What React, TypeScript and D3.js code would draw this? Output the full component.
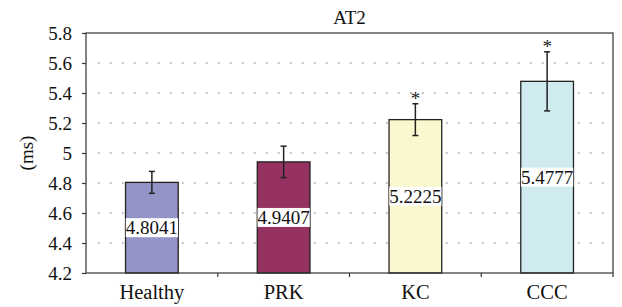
import React, { useEffect, useRef } from "react";
import * as d3 from "d3";

const categories = ["Healthy", "PRK", "KC", "CCC"];
const means = [4.8041, 4.9407, 5.2225, 5.4777];
const errors = [0.073, 0.105, 0.106, 0.197];
const significant = [false, false, true, true];
const colors = ["#9494C8", "#953262", "#FAF8CE", "#CFEBEF"];
const yTicks = [4.2, 4.4, 4.6, 4.8, 5, 5.2, 5.4, 5.6, 5.8];

const App = () => {
  const ref = useRef<SVGSVGElement>(null);

  useEffect(() => {
    const svg = d3.select(ref.current);
    svg.selectAll("*").remove();

    const width = 622;
    const height = 307;
    const margin = { top: 33, right: 9, bottom: 34, left: 86 };
    const font = "Liberation Serif, Times New Roman, serif";
    const fs = 19;

    const x = d3
      .scaleBand()
      .domain(categories)
      .range([margin.left, width - margin.right])
      .paddingInner(0.6)
      .paddingOuter(0.3);

    const y = d3
      .scaleLinear()
      .domain([4.2, 5.8])
      .range([height - margin.bottom, margin.top]);

    svg.attr("viewBox", [0, 0, width, height]);

    // dotted grid
    svg
      .append("g")
      .selectAll("line")
      .data(yTicks.slice(1, -1))
      .join("line")
      .attr("x1", margin.left + 12)
      .attr("x2", width - margin.right)
      .attr("y1", (d) => y(d))
      .attr("y2", (d) => y(d))
      .attr("stroke", "#9a9a9a")
      .attr("stroke-width", 1.5)
      .attr("stroke-dasharray", "1.5 10.5");

    const data = categories.map((c, i) => ({
      c,
      m: means[i],
      e: errors[i],
      s: significant[i],
      col: colors[i],
    }));

    // bars
    svg
      .append("g")
      .selectAll("rect")
      .data(data)
      .join("rect")
      .attr("x", (d) => x(d.c)!)
      .attr("y", (d) => y(d.m))
      .attr("width", x.bandwidth())
      .attr("height", (d) => y(4.2) - y(d.m))
      .attr("fill", (d) => d.col)
      .attr("stroke", "#222")
      .attr("stroke-width", 1.3);

    // value labels with white box
    const lab = svg.append("g");
    data.forEach((d) => {
      const cx = x(d.c)! + x.bandwidth() / 2;
      const cy = (y(d.m) + y(4.2)) / 2;
      const bg = lab.append("rect").attr("fill", "#fff");
      const t = lab
        .append("text")
        .attr("x", cx)
        .attr("y", cy)
        .attr("dy", "0.35em")
        .attr("text-anchor", "middle")
        .style("font-family", font)
        .style("font-size", fs + "px")
        .attr("fill", "#111")
        .text(d.m.toFixed(4));
      const b = (t.node() as SVGTextElement).getBBox();
      bg.attr("x", b.x)
        .attr("y", cy - 9.5)
        .attr("width", b.width)
        .attr("height", 19);
    });

    // error bars
    const eb = svg.append("g").attr("stroke", "#222").attr("stroke-width", 1.5);
    data.forEach((d) => {
      const cx = x(d.c)! + x.bandwidth() / 2;
      eb.append("line")
        .attr("x1", cx)
        .attr("x2", cx)
        .attr("y1", y(d.m + d.e))
        .attr("y2", y(d.m - d.e));
      [d.m + d.e, d.m - d.e].forEach((v) =>
        eb
          .append("line")
          .attr("x1", cx - 3)
          .attr("x2", cx + 3)
          .attr("y1", y(v))
          .attr("y2", y(v))
      );
      if (d.s) {
        svg
          .append("text")
          .attr("x", cx)
          .attr("y", y(d.m + d.e) + 1)
          .attr("text-anchor", "middle")
          .style("font-family", font)
          .style("font-size", fs + "px")
          .attr("fill", "#222")
          .text("*");
      }
    });

    // frame
    svg
      .append("rect")
      .attr("x", margin.left)
      .attr("y", margin.top)
      .attr("width", width - margin.left - margin.right)
      .attr("height", height - margin.top - margin.bottom)
      .attr("fill", "none")
      .attr("stroke", "#333")
      .attr("stroke-width", 1.2);

    // y axis
    const ya = svg
      .append("g")
      .attr("transform", `translate(${margin.left},0)`)
      .call(
        d3
          .axisLeft(y)
          .tickValues(yTicks)
          .tickSize(4)
          .tickPadding(10)
          .tickFormat((d) => d3.format("")(+d))
      );
    ya.select(".domain").remove();
    ya.selectAll("line").attr("stroke", "#333").attr("stroke-width", 1.2);
    ya.selectAll("text")
      .style("font-family", font)
      .style("font-size", fs + "px")
      .attr("fill", "#111");

    // x axis ticks at band boundaries
    const bounds = categories
      .map((c) => x(c)! - (x.step() * 0.6) / 2)
      .concat([width - margin.right]);
    svg
      .append("g")
      .selectAll("line")
      .data(bounds.slice(1))
      .join("line")
      .attr("x1", (d) => d)
      .attr("x2", (d) => d)
      .attr("y1", y(4.2))
      .attr("y2", y(4.2) + 4)
      .attr("stroke", "#333")
      .attr("stroke-width", 1.2);

    svg
      .append("g")
      .selectAll("text")
      .data(categories)
      .join("text")
      .attr("x", (d) => x(d)! + x.bandwidth() / 2)
      .attr("y", 299)
      .attr("text-anchor", "middle")
      .style("font-family", font)
      .style("font-size", "20.5px")
      .attr("fill", "#111")
      .text((d) => d);

    // title
    svg
      .append("text")
      .attr("x", (margin.left + width - margin.right) / 2)
      .attr("y", 24)
      .attr("text-anchor", "middle")
      .style("font-family", font)
      .style("font-size", fs + "px")
      .attr("fill", "#111")
      .text("AT2");

    // y label
    svg
      .append("text")
      .attr(
        "transform",
        `translate(33,${(margin.top + height - margin.bottom) / 2}) rotate(-90)`
      )
      .attr("text-anchor", "middle")
      .style("font-family", font)
      .style("font-size", fs + "px")
      .attr("fill", "#111")
      .text("(ms)");
  }, []);

  return (
    <svg
      ref={ref}
      width={622}
      height={307}
      style={{ position: "absolute", left: 0, top: 0, background: "#fff" }}
    ></svg>
  );
};

export default App;
